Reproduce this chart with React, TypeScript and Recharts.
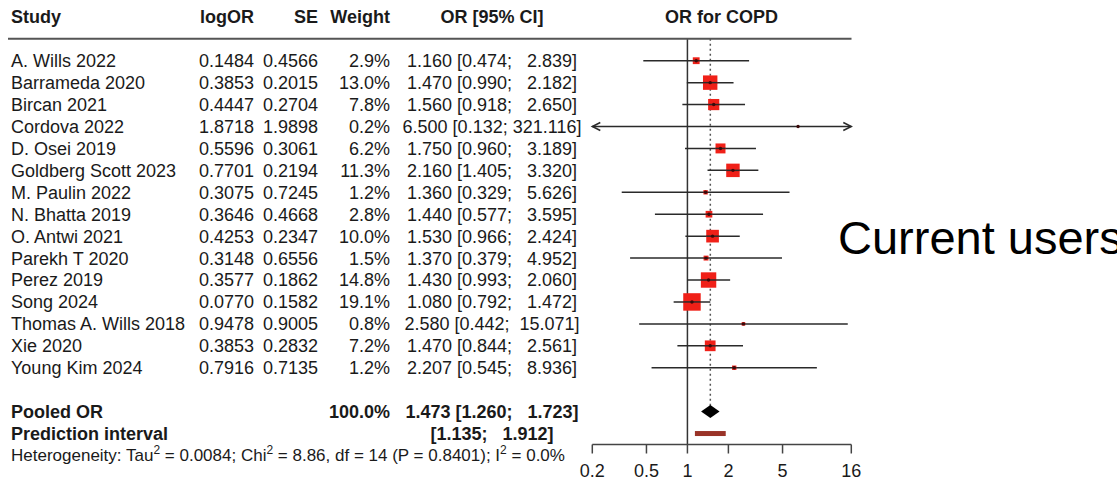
import React from 'react';
import { ScatterChart, Scatter, XAxis, YAxis, ReferenceLine } from 'recharts';

const studies = [
  'A. Wills 2022', 'Barrameda 2020', 'Bircan 2021', 'Cordova 2022', 'D. Osei 2019',
  'Goldberg Scott 2023', 'M. Paulin 2022', 'N. Bhatta 2019', 'O. Antwi 2021', 'Parekh T 2020',
  'Perez 2019', 'Song 2024', 'Thomas A. Wills 2018', 'Xie 2020', 'Young Kim 2024',
];
const logORs = [0.1484, 0.3853, 0.4447, 1.8718, 0.5596, 0.7701, 0.3075, 0.3646, 0.4253, 0.3148, 0.3577, 0.0770, 0.9478, 0.3853, 0.7916];
const ses = [0.4566, 0.2015, 0.2704, 1.9898, 0.3061, 0.2194, 0.7245, 0.4668, 0.2347, 0.6556, 0.1862, 0.1582, 0.9005, 0.2832, 0.7135];
const weights = [2.9, 13.0, 7.8, 0.2, 6.2, 11.3, 1.2, 2.8, 10.0, 1.5, 14.8, 19.1, 0.8, 7.2, 1.2];
const orValues = [1.160, 1.470, 1.560, 6.500, 1.750, 2.160, 1.360, 1.440, 1.530, 1.370, 1.430, 1.080, 2.580, 1.470, 2.207];
const ciLows = [0.474, 0.990, 0.918, 0.132, 0.960, 1.405, 0.329, 0.577, 0.966, 0.379, 0.993, 0.792, 0.442, 0.844, 0.545];
const ciHighs = [2.839, 2.182, 2.650, 321.116, 3.189, 3.320, 5.626, 3.595, 2.424, 4.952, 2.060, 1.472, 15.071, 2.561, 8.936];

const pooledOR = 1.473;
const pooledLow = 1.260;
const pooledHigh = 1.723;
const pooledWeight = 100.0;
const predLow = 1.135;
const predHigh = 1.912;

const xTicks = [0.2, 0.5, 1, 2, 5, 16];
const X_MIN = 0.2;
const X_MAX = 16;

const FONT = '"Liberation Sans", Arial, Helvetica, sans-serif';
const FS = 18;
const COL = { study: 11, logOR: 254, se: 318, weight: 390, ci: 492, plotMid: 721.5, ruleL: 8, ruleR: 851.5 };
const HET_OFFSET = 21;

const fmtCI = (or: number, lo: number, hi: number) =>
  `${or.toFixed(3)} [${lo.toFixed(3)}; ${hi.toFixed(3).padStart(7, ' ')}]`;
const fmtPI = (lo: number, hi: number) => `[${lo.toFixed(3)}; ${hi.toFixed(3).padStart(7, ' ')}]`;

const squareData = studies.map((s, i) => ({ x: orValues[i], y: i, w: weights[i] }));

const tableRows: any[] = [
  { x: 1, y: -2, kind: 'header' },
  { x: 1, y: -1, kind: 'rule' },
  ...studies.map((s, i) => ({ x: 1, y: i, kind: 'study', idx: i })),
  { x: 1, y: 8, kind: 'note' },
  { x: 1, y: 16, kind: 'pooled' },
  { x: 1, y: 17, kind: 'pred' },
];

const T = (p: any) => (
  <text
    fontFamily={FONT}
    fontSize={FS}
    fill="#1a1a1a"
    dy="0.36em"
    style={{ whiteSpace: 'pre' }}
    {...p}
  />
);

const TableShape = (props: any) => {
  const { cy, payload } = props;
  const k = payload.kind;
  if (k === 'header') {
    return (
      <g>
        <T x={COL.study} y={cy} fontWeight="bold">Study</T>
        <T x={COL.logOR} y={cy} fontWeight="bold" textAnchor="end">logOR</T>
        <T x={COL.se} y={cy} fontWeight="bold" textAnchor="end">SE</T>
        <T x={COL.weight} y={cy} fontWeight="bold" textAnchor="end">Weight</T>
        <T x={COL.ci} y={cy} fontWeight="bold" textAnchor="middle">OR [95% CI]</T>
        <T x={COL.plotMid} y={cy} fontWeight="bold" textAnchor="middle">OR for COPD</T>
      </g>
    );
  }
  if (k === 'rule') {
    return <line x1={COL.ruleL} x2={COL.ruleR} y1={cy} y2={cy} stroke="#555" strokeWidth={2} />;
  }
  if (k === 'study') {
    const i = payload.idx;
    return (
      <g>
        <T x={COL.study} y={cy}>{studies[i]}</T>
        <T x={COL.logOR} y={cy} textAnchor="end">{logORs[i].toFixed(4)}</T>
        <T x={COL.se} y={cy} textAnchor="end">{ses[i].toFixed(4)}</T>
        <T x={COL.weight} y={cy} textAnchor="end">{weights[i].toFixed(1) + '%'}</T>
        <T x={COL.ci} y={cy} textAnchor="middle">{fmtCI(orValues[i], ciLows[i], ciHighs[i])}</T>
      </g>
    );
  }
  if (k === 'note') {
    return (
      <text x={838} y={cy} dy={18} fontFamily={FONT} fontSize={47} fill="#000">Current users</text>
    );
  }
  if (k === 'pooled') {
    return (
      <g>
        <T x={COL.study} y={cy} fontWeight="bold">Pooled OR</T>
        <T x={COL.weight} y={cy} fontWeight="bold" textAnchor="end">{pooledWeight.toFixed(1) + '%'}</T>
        <T x={COL.ci} y={cy} fontWeight="bold" textAnchor="middle">{fmtCI(pooledOR, pooledLow, pooledHigh)}</T>
      </g>
    );
  }
  if (k === 'pred') {
    const hy = cy + HET_OFFSET;
    return (
      <g>
        <T x={COL.study} y={cy} fontWeight="bold">Prediction interval</T>
        <T x={COL.ci} y={cy} fontWeight="bold" textAnchor="middle">{fmtPI(predLow, predHigh)}</T>
        <text x={COL.study} y={hy} dy="0.36em" fontFamily={FONT} fontSize={17} fill="#1a1a1a" style={{ whiteSpace: 'pre' }}>
          <tspan>Heterogeneity: Tau</tspan>
          <tspan fontSize={12} dy={-7}>2</tspan>
          <tspan dy={7}> = 0.0084; Chi</tspan>
          <tspan fontSize={12} dy={-7}>2</tspan>
          <tspan dy={7}> = 8.86, df = 14 (P = 0.8401); I</tspan>
          <tspan fontSize={12} dy={-7}>2</tspan>
          <tspan dy={7}> = 0.0%</tspan>
        </text>
      </g>
    );
  }
  return <g />;
};

const SquareShape = (props: any) => {
  const { cx, cy, payload } = props;
  const s = 4 * Math.sqrt(payload.w);
  return (
    <g>
      <rect x={cx - s / 2} y={cy - s / 2} width={s} height={s} fill="#f02018" />
      <line x1={cx - s / 2} x2={cx + s / 2} y1={cy} y2={cy} stroke="#2a2a2a" strokeWidth={1.5} />
      <circle cx={cx} cy={cy} r={1.7} fill="#3a0a0a" />
    </g>
  );
};

const ciShape = (arrowL: boolean, arrowR: boolean) => (p: any) => {
  const { x1, y1, x2, y2 } = p;
  const a = 8;
  const h = 4;
  return (
    <g>
      <line x1={x1} y1={y1} x2={x2} y2={y2} stroke="#2a2a2a" strokeWidth={1.5} />
      {arrowL && (
        <polyline points={`${x1 + a},${y1 - h} ${x1},${y1} ${x1 + a},${y1 + h}`} fill="none" stroke="#2a2a2a" strokeWidth={1.5} />
      )}
      {arrowR && (
        <polyline points={`${x2 - a},${y2 - h} ${x2},${y2} ${x2 - a},${y2 + h}`} fill="none" stroke="#2a2a2a" strokeWidth={1.5} />
      )}
    </g>
  );
};

const diamondShape = (p: any) => {
  const { x1, y1, x2 } = p;
  const mid = (x1 + x2) / 2;
  const h = 6.5;
  return <polygon points={`${x1},${y1} ${mid},${y1 - h} ${x2},${y1} ${mid},${y1 + h}`} fill="#000" />;
};

export default function App() {
  return (
    <div
      style={{
        position: 'fixed', left: 0, top: 0, width: 1117, height: 488,
        overflow: 'hidden', background: '#fff', fontFamily: FONT,
      }}
    >
      <ScatterChart width={1117} height={488} margin={{ top: 16.84, right: 265.7, bottom: 0, left: 592.3 }}>
        <XAxis
          type="number"
          dataKey="x"
          scale="log"
          domain={[X_MIN, X_MAX]}
          ticks={xTicks}
          interval={0}
          tickFormatter={(v: number) => String(v)}
          height={43.5}
          tickSize={9}
          tickMargin={11}
          axisLine={{ stroke: '#444', strokeWidth: 1.5 }}
          tickLine={{ stroke: '#444', strokeWidth: 1.5 }}
          tick={{ fontSize: 18, fill: '#1a1a1a', fontFamily: FONT }}
        />
        <YAxis type="number" dataKey="y" domain={[-2, 17.5]} reversed hide />

        <ReferenceLine
          segment={[{ x: 1, y: -1 }, { x: 1, y: 17.5 }]}
          stroke="#333"
          strokeWidth={1.5}
          ifOverflow="visible"
        />
        <ReferenceLine
          segment={[{ x: pooledOR, y: -1 }, { x: pooledOR, y: 16 }]}
          stroke="#555"
          strokeWidth={1.5}
          strokeDasharray="2 3"
          ifOverflow="visible"
        />

        {studies.map((s, i) => {
          const lo = Math.max(ciLows[i], X_MIN);
          const hi = Math.min(ciHighs[i], X_MAX);
          return (
            <ReferenceLine
              key={s}
              segment={[{ x: lo, y: i }, { x: hi, y: i }]}
              ifOverflow="visible"
              shape={ciShape(ciLows[i] < X_MIN, ciHighs[i] > X_MAX)}
            />
          );
        })}

        <Scatter data={squareData} shape={SquareShape} isAnimationActive={false} />

        <ReferenceLine
          segment={[{ x: pooledLow, y: 16 }, { x: pooledHigh, y: 16 }]}
          ifOverflow="visible"
          shape={diamondShape}
        />
        <ReferenceLine
          segment={[{ x: predLow, y: 17 }, { x: predHigh, y: 17 }]}
          stroke="#9a3328"
          strokeWidth={5}
          ifOverflow="visible"
        />

        <Scatter data={tableRows} shape={TableShape} isAnimationActive={false} />
      </ScatterChart>
    </div>
  );
}
